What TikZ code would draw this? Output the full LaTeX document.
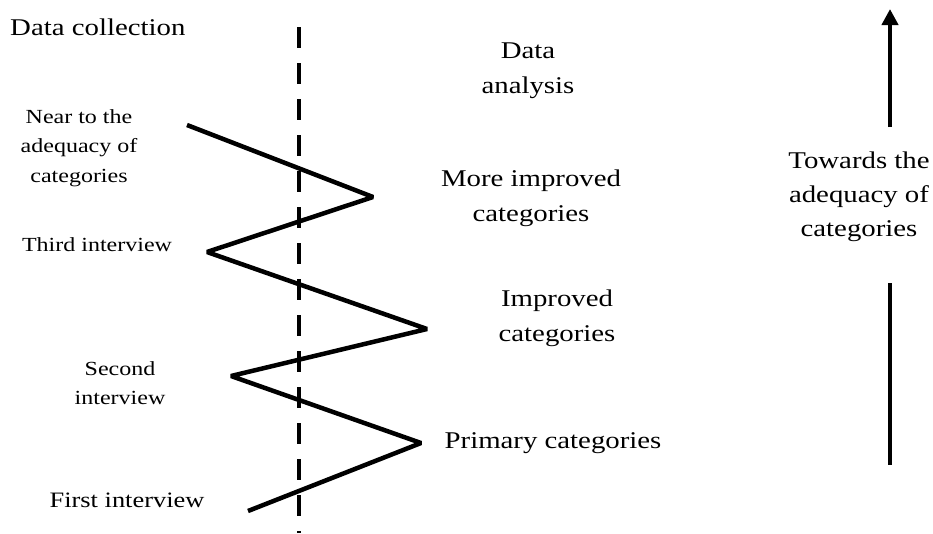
\documentclass[tikz,border=0pt]{standalone}
\usepackage{fontspec}
\setmainfont{Liberation Serif}
\usetikzlibrary{arrows.meta}
\newcommand{\mylines}[1]{\begin{tabular}[t]{@{}c@{}}#1\end{tabular}}
\begin{document}
\begin{tikzpicture}[x=1pt,y=-1pt,
  big/.style={anchor=base,xscale=1.2,inner sep=0pt,font=\fontsize{24}{35}\selectfont},
  small/.style={anchor=base,xscale=1.2,inner sep=0pt,font=\fontsize{20}{29.5}\selectfont},
  zig/.style={line width=4.5pt,line join=bevel},
  dashline/.style={line width=4.5pt,dash pattern=on 21pt off 15pt},
  upline/.style={line width=4.6pt}]
\useasboundingbox (0,0) rectangle (933,533);

% dashed divider
\coordinate (dtop) at (299,27);
\coordinate (dbot) at (299,533);
\draw[dashline] (dtop) -- (dbot);

% zigzag
\coordinate (z0) at (187,125);
\coordinate (z1) at (373,197);
\coordinate (z2) at (207,252);
\coordinate (z3) at (427,329);
\coordinate (z4) at (231,376);
\coordinate (z5) at (421,443);
\coordinate (z6) at (248,511);
\draw[zig] (z0) -- (z1) -- (z2) -- (z3) -- (z4) -- (z5) -- (z6);

% right arrow
\coordinate (atop) at (890,9);
\coordinate (abot) at (890,127);
\draw[upline,-{Triangle[length=16pt,width=16pt]}] (abot) -- (atop);
\coordinate (ltop) at (890,283);
\coordinate (lbot) at (890,465);
\draw[upline] (ltop) -- (lbot);

% labels
\node[big,anchor=base west] (dc) at (10,35) {Data collection};
\node[big] (da) at (528,58) {\mylines{Data\\analysis}};
\node[big] (mic) at (531,186) {\mylines{More improved\\categories}};
\node[big] (ic) at (557,306) {\mylines{Improved\\categories}};
\node[big] (pc) at (553,448) {Primary categories};
\node[big,font=\fontsize{24}{34}\selectfont] (tw) at (859,168) {\mylines{Towards the\\adequacy of\\categories}};

\node[small] (near) at (79,123) {\mylines{Near to the\\adequacy of\\categories}};
\node[small] (third) at (97,251) {Third interview};
\node[small,font=\fontsize{20}{29}\selectfont] (second) at (120,375) {\mylines{Second\\interview}};
\node[small,font=\fontsize{22}{30}\selectfont] (first) at (127,507) {First interview};
\end{tikzpicture}
\end{document}
